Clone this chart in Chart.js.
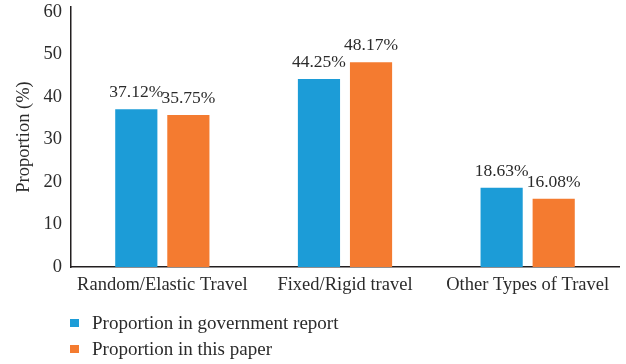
<!DOCTYPE html>
<html>
<head>
<meta charset="utf-8">
<script src="https://cdn.jsdelivr.net/npm/chart.js@4/dist/chart.umd.min.js"></script>
<style>
  html, body { margin: 0; padding: 0; background: #fff; }
  #wrap { position: relative; width: 626px; height: 364px; }
  #legend { position: absolute; left: 70px; top: 310px; font-family: "Liberation Serif", serif; font-size: 19px; color: #2b2b2b; }
  #legend div { display: flex; align-items: center; height: 26px; }
  #legend span.box { display: inline-block; width: 9px; height: 8px; margin-right: 13px; }
</style>
</head>
<body>
<div id="wrap">
  <canvas id="c" width="626" height="364"></canvas>
  <div id="legend"></div>
</div>
<script>
const categories = ['Random/Elastic Travel', 'Fixed/Rigid travel', 'Other Types of Travel'];
const governmentReport = [37.12, 44.25, 18.63];
const thisPaper = [35.75, 48.17, 16.08];
const seriesNames = ['Proportion in government report', 'Proportion in this paper'];
const yTicks = [0, 10, 20, 30, 40, 50, 60];

const FONT = '"Liberation Serif", "Times New Roman", serif';
const TEXT = '#2b2b2b';
const BLUE = '#1c9cd7';
const ORANGE = '#f47b30';

// Percentage labels centred above each bar
const valueLabels = {
  id: 'valueLabels',
  afterDatasetsDraw(chart) {
    const ctx = chart.ctx;
    ctx.save();
    ctx.font = '17.5px ' + FONT;
    ctx.fillStyle = TEXT;
    ctx.textAlign = 'center';
    ctx.textBaseline = 'alphabetic';
    chart.data.datasets.forEach((ds, di) => {
      chart.getDatasetMeta(di).data.forEach((bar, i) => {
        ctx.fillText(ds.data[i].toFixed(2) + '%', bar.x, bar.y - 12);
      });
    });
    ctx.restore();
  }
};

const chart = new Chart(document.getElementById('c'), {
  type: 'bar',
  data: {
    labels: categories,
    datasets: [
      { label: seriesNames[0], data: governmentReport, backgroundColor: BLUE },
      { label: seriesNames[1], data: thisPaper, backgroundColor: ORANGE }
    ]
  },
  options: {
    responsive: false,
    animation: false,
    devicePixelRatio: 1,
    layout: { padding: { top: 7, right: 7, bottom: 0, left: 0 } },
    datasets: { bar: { categoryPercentage: 0.57, barPercentage: 0.81 } },
    plugins: {
      legend: { display: false },
      tooltip: { enabled: false }
    },
    scales: {
      x: {
        grid: { display: false, drawTicks: false },
        border: { display: true, color: '#231f20', width: 1.5 },
        ticks: { color: TEXT, font: { family: FONT, size: 18.5 }, padding: 7, maxRotation: 0 },
        afterFit(scale) {
          scale.height = 97;
          scale.paddingLeft = 0;
          scale.paddingRight = 0;
        }
      },
      y: {
        min: 0,
        max: 61.2,
        grid: { display: false, drawTicks: false },
        border: { display: true, color: '#231f20', width: 1.5 },
        ticks: { color: TEXT, font: { family: FONT, size: 18.5 }, padding: 9, stepSize: 10 },
        afterBuildTicks(scale) {
          scale.ticks = yTicks.map(v => ({ value: v }));
        },
        title: {
          display: true,
          text: 'Proportion (%)',
          color: TEXT,
          font: { family: FONT, size: 18.5 },
          padding: { top: 13, bottom: 0 }
        },
        afterFit(scale) {
          scale.width = 71;
          scale.paddingTop = 0;
          scale.paddingBottom = 0;
        }
      }
    }
  },
  plugins: [valueLabels]
});

// Vertical legend list built from the chart's own legend items
const legendEl = document.getElementById('legend');
chart.options.plugins.legend.labels.generateLabels(chart).forEach(item => {
  const row = document.createElement('div');
  const box = document.createElement('span');
  box.className = 'box';
  box.style.background = item.fillStyle;
  row.appendChild(box);
  row.appendChild(document.createTextNode(item.text));
  legendEl.appendChild(row);
});
</script>
</body>
</html>
